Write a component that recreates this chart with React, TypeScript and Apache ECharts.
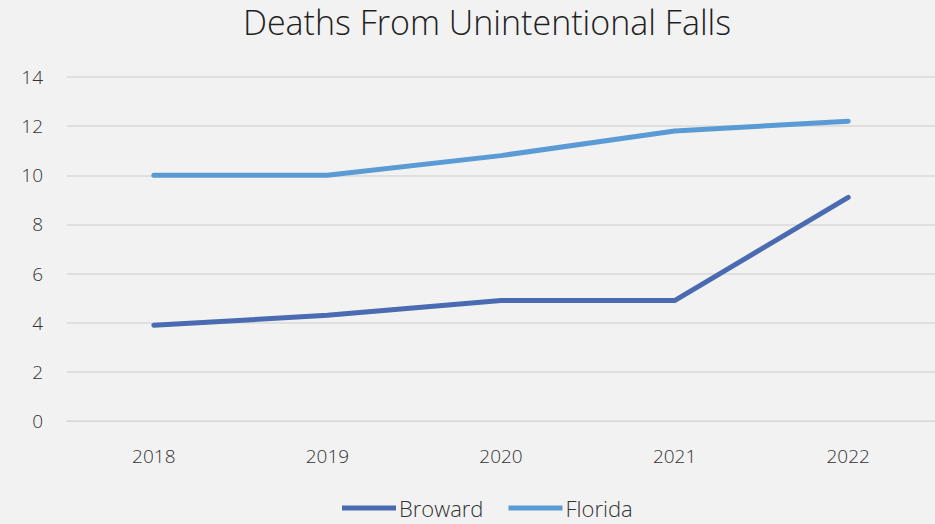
import React, { useEffect, useRef } from "react";
import * as echarts from "echarts";

const years = ["2018", "2019", "2020", "2021", "2022"];
const broward = [3.9, 4.3, 4.9, 4.9, 9.1];
const florida = [10.0, 10.0, 10.8, 11.8, 12.2];

const FONT = "'Open Sans', 'Segoe UI', sans-serif";

export default function App() {
  const ref = useRef<HTMLDivElement>(null);
  useEffect(() => {
    if (!ref.current) return;
    const chart = echarts.init(ref.current, null, { renderer: "svg" });
    chart.setOption({
      animation: false,
      backgroundColor: "#f2f2f2",
      title: {
        text: "Deaths From Unintentional Falls",
        left: 482,
        top: 0,
        textAlign: "center",
        textStyle: { fontFamily: FONT, fontWeight: 300, fontSize: 34, color: "#1f1f1f" },
      },
      legend: {
        bottom: 0,
        left: 337,
        icon: "rect",
        itemWidth: 54,
        itemHeight: 5,
        itemGap: 25,
        textStyle: { fontFamily: FONT, fontWeight: 300, fontSize: 22, color: "#333333", padding: [0, 0, 0, -2] },
        data: ["Broward", "Florida"],
      },
      grid: { left: 67, right: 0, top: 77, bottom: 103, containLabel: false },
      xAxis: {
        type: "category",
        data: years,
        boundaryGap: true,
        axisLine: { show: true, lineStyle: { color: "#d9d9d9", width: 1 } },
        axisTick: { show: false },
        axisLabel: { fontFamily: FONT, fontWeight: 300, fontSize: 19, color: "#333333", margin: 25 },
      },
      yAxis: {
        type: "value",
        min: 0,
        max: 14,
        interval: 2,
        axisLine: { show: false },
        axisTick: { show: false },
        splitLine: { lineStyle: { color: "#d9d9d9", width: 1.5 } },
        axisLabel: { fontFamily: FONT, fontWeight: 300, fontSize: 19, color: "#333333", margin: 24 },
      },
      series: [
        {
          name: "Broward",
          type: "line",
          data: broward,
          symbol: "none",
          color: "#4a6ab2",
          lineStyle: { width: 5, color: "#4a6ab2", cap: "round", join: "round" },
        },
        {
          name: "Florida",
          type: "line",
          data: florida,
          symbol: "none",
          color: "#5b9bd5",
          lineStyle: { width: 5, color: "#5b9bd5", cap: "round", join: "round" },
        },
      ],
    });
    return () => chart.dispose();
  }, []);
  return <div ref={ref} style={{ width: 935, height: 524, position: "absolute", left: 0, top: 0 }} />;
}
